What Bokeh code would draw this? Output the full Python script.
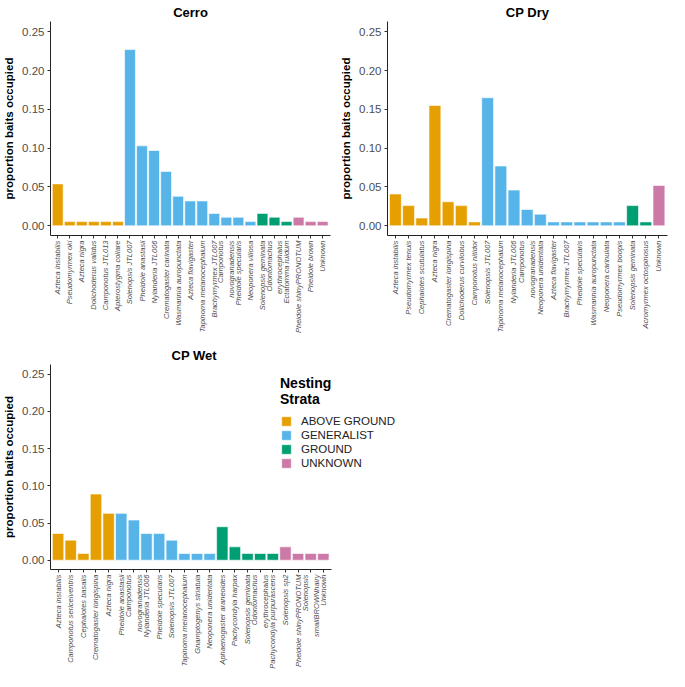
import math
from bokeh.plotting import figure
from bokeh.models import Range1d, FixedTicker, NumeralTickFormatter, Legend, LegendItem, ColumnDataSource
from bokeh.layouts import column, row
from bokeh.embed import file_html
from bokeh.resources import INLINE

strata_names = ["ABOVE GROUND", "GENERALIST", "GROUND", "UNKNOWN"]
strata_colors = ["#E69F00", "#56B4E9", "#009E73", "#CC79A7"]

y_ticks = [0.0, 0.05, 0.10, 0.15, 0.20, 0.25]

cerro_species = [
    "Azteca instabilis", "Pseudomyrmex oki", "Azteca nigra", "Dolichoderus validus",
    "Camponotus JTL013", "Apterostygma collare", "Solenopsis JTL007", "Pheidole anastasii",
    "Nylanderia JTL006", "Crematogaster carinata", "Wasmannia auropunctata",
    "Azteca flavigaster", "Tapinoma melanocephalum", "Brachymyrmex JTL007",
    "Camponotus\nnovogranadensis", "Pheidole specularis", "Neoponera villosa",
    "Solenopsis geminata", "Odontomachus\nerythrocephalus", "Ectatomma ruidum",
    "Pheidole shinyPRONOTUM", "Pheidole brown", "Unknown",
]
cerro_strata = (["ABOVE GROUND"] * 6 + ["GENERALIST"] * 11 + ["GROUND"] * 3 + ["UNKNOWN"] * 3)
cerro_values = [
    0.054, 0.0054, 0.0054, 0.0054, 0.0054, 0.0054,
    0.227, 0.103, 0.097, 0.070, 0.038, 0.032, 0.032, 0.016, 0.011, 0.011, 0.0054,
    0.016, 0.011, 0.0054,
    0.011, 0.0054, 0.0054,
]

cpdry_species = [
    "Azteca instabilis", "Pseudomyrmex tenuis", "Cephalotes scutulatus", "Azteca nigra",
    "Crematogaster longispina", "Dolichoderus curvilobus", "Camponotus nitidor",
    "Solenopsis JTL007", "Tapinoma melanocephalum", "Nylanderia JTL006",
    "Camponotus\nnovogranadensis", "Neoponera unidentata", "Azteca flavigaster",
    "Brachymyrmex JTL007", "Pheidole specularis", "Wasmannia auropunctata",
    "Neoponera carinulata", "Pseudomyrmex boopis", "Solenopsis geminata",
    "Acromyrmex octospinosus", "Unknown",
]
cpdry_strata = (["ABOVE GROUND"] * 7 + ["GENERALIST"] * 11 + ["GROUND"] * 2 + ["UNKNOWN"] * 1)
cpdry_values = [
    0.041, 0.026, 0.010, 0.155, 0.031, 0.026, 0.005,
    0.165, 0.077, 0.046, 0.021, 0.015, 0.005, 0.005, 0.005, 0.005, 0.005, 0.005,
    0.026, 0.005,
    0.052,
]

cpwet_species = [
    "Azteca instabilis", "Camponotus sericeiventris", "Cephalotes basalis",
    "Crematogaster longispina", "Azteca nigra", "Pheidole anastasii",
    "Camponotus\nnovogranadensis", "Nylanderia JTL006", "Pheidole specularis",
    "Solenopsis JTL007", "Tapinoma melanocephalum", "Gnamptogenys striatula",
    "Neoponera unidentata", "Aphaenogaster araneoides", "Pachycondyla harpax",
    "Solenopsis geminata", "Odontomachus\nerythrocephalus", "Pachycondyla purpurascens",
    "Solenopsis sp2", "Pheidole shinyPRONOTUM", "Solenopsis\nsmallBROWNhairy", "Unknown",
]
cpwet_strata = (["ABOVE GROUND"] * 5 + ["GENERALIST"] * 8 + ["GROUND"] * 5 + ["UNKNOWN"] * 4)
cpwet_values = [
    0.036, 0.027, 0.009, 0.089, 0.063,
    0.063, 0.054, 0.036, 0.036, 0.027, 0.009, 0.009, 0.009,
    0.045, 0.018, 0.009, 0.009, 0.009,
    0.018, 0.009, 0.009, 0.009,
]

FONT = "Liberation Sans"


def make_panel(title, species, values, strata, width, height, bl, br, bt, bb, x_end_extra=0.0):
    n = len(species)
    x_start, x_end = 0.4, n + 0.65
    p = figure(width=width, height=height, output_backend="svg", toolbar_location=None,
               x_range=Range1d(x_start, x_end + x_end_extra), y_range=Range1d(-0.0125, 0.2632),
               min_border_left=bl, min_border_right=br, min_border_top=bt, min_border_bottom=bb,
               title=title)
    p.outline_line_color = None
    p.xgrid.visible = False
    p.ygrid.visible = False
    p.title.align = "center"
    p.title.text_font = FONT
    p.title.text_font_size = "13px"
    p.title.text_font_style = "bold"
    p.title.text_color = "black"
    p.title.standoff = 4

    renderers = {}
    for name, color in zip(strata_names, strata_colors):
        xs = [i + 1 for i in range(n) if strata[i] == name]
        tops = [values[i] for i in range(n) if strata[i] == name]
        if not xs:
            continue
        src = ColumnDataSource(dict(x=xs, top=tops))
        r = p.vbar(x="x", top="top", bottom=0, width=0.9, source=src,
                   fill_color=color, line_color="white", line_width=0.6)
        renderers[name] = r

    for ax in (p.xaxis[0], p.yaxis[0]):
        ax.axis_line_color = "#222222"
        ax.axis_line_width = 1
        ax.major_tick_line_color = "#333333"
        ax.major_tick_out = 3
        ax.major_tick_in = 0
        ax.minor_tick_out = 0
        ax.minor_tick_in = 0

    p.yaxis.ticker = FixedTicker(ticks=y_ticks)
    p.yaxis.formatter = NumeralTickFormatter(format="0.00")
    p.yaxis.major_label_text_font = FONT
    p.yaxis.major_label_text_font_size = "11.5px"
    p.yaxis.major_label_text_color = "#4D4D4D"
    p.yaxis.major_label_standoff = 3
    p.yaxis.axis_label = "proportion baits occupied"
    p.yaxis.axis_label_text_font = FONT
    p.yaxis.axis_label_text_font_size = "11.5px"
    p.yaxis.axis_label_text_font_style = "bold"
    p.yaxis.axis_label_text_color = "black"
    p.yaxis.axis_label_standoff = 4

    p.xaxis.ticker = FixedTicker(ticks=list(range(1, n + 1)))
    p.xaxis.bounds = (x_start, x_end)
    p.xaxis.major_label_overrides = {i + 1: s for i, s in enumerate(species)}
    p.xaxis.major_label_orientation = math.pi / 2
    p.xaxis.major_label_text_font = FONT
    p.xaxis.major_label_text_font_size = "7.5px"
    p.xaxis.major_label_text_font_style = "italic"
    p.xaxis.major_label_text_color = "#4D4D4D"
    p.xaxis.major_label_standoff = 2
    return p, renderers


p1, _ = make_panel("Cerro", cerro_species, cerro_values, cerro_strata, 335, 338, 45, 5, 18, 103)
p2, _ = make_panel("CP Dry", cpdry_species, cpdry_values, cpdry_strata, 334, 338, 52, 2, 18, 103)

# bottom row: frame widened to the right so the legend can sit beside the bars
wet_n = len(cpwet_species)
wet_units = wet_n + 0.65 - 0.4
wet_frame = 285
wet_extra_px = 75
p3, rmap = make_panel("CP Wet", cpwet_species, cpwet_values, cpwet_strata, 669, 333,
                      45, 669 - 45 - wet_frame - wet_extra_px, 26, 96,
                      x_end_extra=wet_units * wet_extra_px / wet_frame)
p3.title.align = "left"
p3.title.offset = 121

legend = Legend(
    items=[LegendItem(label=name, renderers=[rmap[name]]) for name in strata_names],
    location=(230, 100),
    title="Nesting\nStrata",
    title_text_font=FONT, title_text_font_size="14px", title_text_font_style="bold",
    title_text_color="black", title_standoff=8,
    label_text_font=FONT, label_text_font_size="11.5px", label_text_color="#222222",
    glyph_width=12, glyph_height=12, label_height=12, label_standoff=9, spacing=2,
    padding=0, margin=0, border_line_alpha=0, background_fill_alpha=0,
)
p3.add_layout(legend)

layout = column(row(p1, p2), p3)
open("out.html", "w").write(file_html(layout, INLINE))
